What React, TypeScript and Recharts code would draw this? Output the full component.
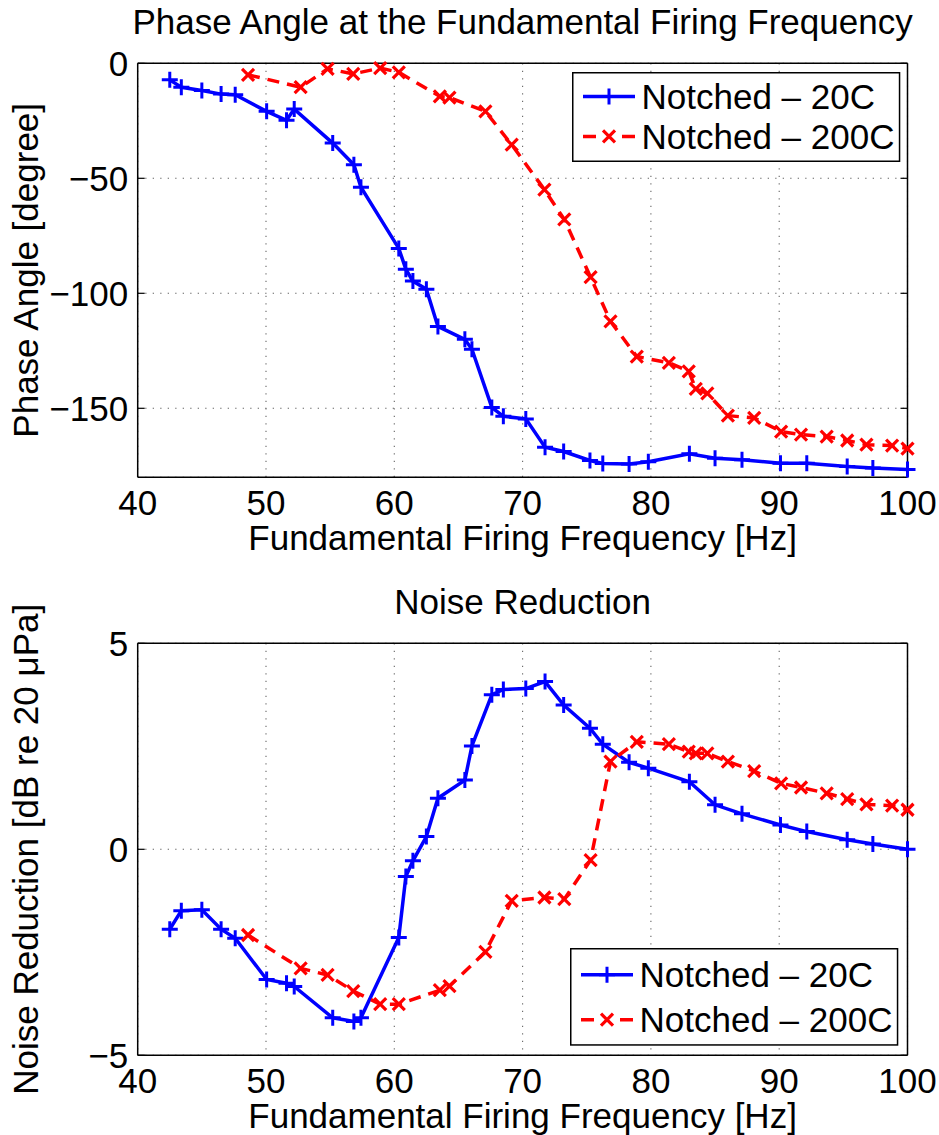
import React from 'react';
import { LineChart, Line, XAxis, YAxis, CartesianGrid, Legend } from 'recharts';

// ---------- data ----------
const freq20 = [42.5, 43.4, 45.0, 46.5, 47.6, 50.05, 51.6, 52.2, 55.2, 56.85, 57.4, 60.35, 60.9, 61.45, 62.5, 63.4, 65.5, 66.05, 67.6, 68.5, 70.25, 71.75, 73.2, 75.25, 76.25, 78.3, 79.8, 83.0, 85.0, 87.1, 90.1, 92.15, 95.3, 97.3, 100];
const phase20 = [-7.2, -10.4, -11.8, -13.4, -13.7, -20.9, -24.8, -19.9, -34.7, -44.1, -53.9, -80.5, -89.5, -94.7, -98.2, -114.4, -120, -124.3, -149.6, -153.5, -154.6, -166.9, -168.8, -172.7, -174.0, -174.2, -173.2, -169.8, -171.7, -172.4, -173.9, -173.9, -175.3, -176, -176.6];
const nr20 = [-1.94, -1.49, -1.47, -1.94, -2.16, -3.16, -3.25, -3.33, -4.09, -4.18, -4.09, -2.14, -0.66, -0.28, 0.31, 1.24, 1.68, 2.51, 3.75, 3.88, 3.9, 4.07, 3.5, 2.94, 2.55, 2.11, 1.97, 1.64, 1.08, 0.86, 0.59, 0.43, 0.23, 0.13, 0.0];

const freq200 = [48.6, 52.7, 54.8, 56.8, 58.9, 60.35, 63.55, 64.3, 67.1, 69.15, 71.7, 73.25, 75.3, 76.85, 78.9, 81.4, 82.95, 83.5, 84.4, 86.0, 88.05, 90.15, 91.7, 93.7, 95.3, 96.8, 98.8, 100];
const phase200 = [-5.0, -10.4, -2.4, -4.6, -2.1, -3.9, -14.4, -14.9, -20.9, -35.4, -54.9, -67.9, -93.0, -112.2, -127.5, -130.2, -133.9, -141.6, -143.5, -153.2, -154.2, -160.1, -161.4, -162.3, -164, -165.8, -166.2, -167.5];
const nr200 = [-2.08, -2.89, -3.05, -3.44, -3.76, -3.76, -3.42, -3.32, -2.49, -1.25, -1.17, -1.21, -0.26, 2.13, 2.61, 2.55, 2.37, 2.33, 2.33, 2.13, 1.9, 1.6, 1.5, 1.36, 1.22, 1.09, 1.06, 0.96];

const xTicks = [40, 50, 60, 70, 80, 90, 100];
const phaseTicks = [-150, -100, -50, 0];
const nrTicks = [-5, 0, 5];
const seriesNames = ['Notched \u2013 20C', 'Notched \u2013 200C'];
const titles = ['Phase Angle at the Fundamental Firing Frequency', 'Noise Reduction'];
const xLabel = 'Fundamental Firing Frequency [Hz]';
const yLabels = ['Phase Angle [degree]', 'Noise Reduction [dB re 20 \u03bcPa]'];

// ---------- style ----------
const FONT = '"Liberation Sans", Arial, Helvetica, sans-serif';
const FS = 35;
const BLUE = '#0000ff';
const RED = '#ff0000';
const W = 939;
const PLOT_LEFT = 137.7;
const RIGHT_M = 31.5;
const X_AXIS_H = 40;
const PLOT_CX = PLOT_LEFT + (W - RIGHT_M - PLOT_LEFT) / 2;

const zip = (xs: number[], ys: number[]) => xs.map((x, i) => ({ x, y: ys[i] }));
const fmt = (v: number) => (v < 0 ? '\u2212' + Math.abs(v) : String(v));
const emptyTick = () => <g />;

function PlusDot(props: any) {
  const { cx, cy, index } = props;
  if (cx == null || cy == null) return <g key={`p${index}`} />;
  const s = 8;
  return (
    <path key={`p${index}`} d={`M${cx - s},${cy}H${cx + s}M${cx},${cy - s}V${cy + s}`} stroke={BLUE} strokeWidth={3} fill="none" />
  );
}

function CrossDot(props: any) {
  const { cx, cy, index } = props;
  if (cx == null || cy == null) return <g key={`c${index}`} />;
  const s = 6;
  return (
    <path key={`c${index}`} d={`M${cx - s},${cy - s}L${cx + s},${cy + s}M${cx - s},${cy + s}L${cx + s},${cy - s}`} stroke={RED} strokeWidth={3.2} fill="none" />
  );
}

function makeLegend(w: number, h: number, rowY: number[]) {
  return () => (
    <svg width={w} height={h} style={{ display: 'block', overflow: 'visible' }}>
      <rect x={0.75} y={0.75} width={w - 1.5} height={h - 1.5} fill="#fff" stroke="#000" strokeWidth={1.5} />
      <line x1={11} x2={63} y1={rowY[0]} y2={rowY[0]} stroke={BLUE} strokeWidth={3.5} />
      <PlusDot cx={37} cy={rowY[0]} index={0} />
      <text x={69.5} y={rowY[0]} dominantBaseline="central" fontSize={FS} fontFamily={FONT} fill="#000">{seriesNames[0]}</text>
      <line x1={11} x2={63} y1={rowY[1]} y2={rowY[1]} stroke={RED} strokeWidth={3.5} strokeDasharray="13 26" />
      <CrossDot cx={37} cy={rowY[1]} index={1} />
      <text x={69.5} y={rowY[1]} dominantBaseline="central" fontSize={FS} fontFamily={FONT} fill="#000">{seriesNames[1]}</text>
    </svg>
  );
}

type PanelProps = {
  height: number;
  top: number;
  plotH: number;
  yDomain: [number, number];
  yTicks: number[];
  d20: { x: number; y: number }[];
  d200: { x: number; y: number }[];
  legend: { left: number; top: number; w: number; h: number; rows: number[] };
};

function Panel({ height, top, plotH, yDomain, yTicks, d20, d200, legend }: PanelProps) {
  const bottom = height - top - plotH - X_AXIS_H;
  const tickStyle = { fill: '#000', fontSize: FS, fontFamily: FONT };
  const tl = { stroke: '#000', strokeWidth: 1.2 };
  const al = { stroke: '#000', strokeWidth: 1.5 };
  return (
    <LineChart width={W} height={height} margin={{ top, right: RIGHT_M, bottom, left: 0 }}>
      <CartesianGrid stroke="#666" strokeDasharray="1.3 6.2" strokeWidth={1.1} />
      <XAxis dataKey="x" type="number" domain={[40, 100]} ticks={xTicks} interval={0} height={X_AXIS_H}
        axisLine={al} tickLine={false} tickSize={0} tickMargin={13} tick={tickStyle} />
      <XAxis xAxisId="xb" type="number" domain={[40, 100]} ticks={xTicks} interval={0} allowDataOverflow
        orientation="bottom" mirror axisLine={false} tickLine={tl} tickSize={7} tick={emptyTick} />
      <XAxis xAxisId="xt" type="number" domain={[40, 100]} ticks={xTicks} interval={0} allowDataOverflow
        orientation="top" mirror axisLine={al} tickLine={tl} tickSize={7} tick={emptyTick} />
      <YAxis type="number" domain={yDomain} ticks={yTicks} interval={0} width={PLOT_LEFT}
        axisLine={al} tickLine={false} tickSize={0} tickMargin={9.5} tickFormatter={fmt} tick={tickStyle} />
      <YAxis yAxisId="yl" type="number" domain={yDomain} ticks={yTicks} interval={0} allowDataOverflow
        orientation="left" mirror axisLine={false} tickLine={tl} tickSize={7} tick={emptyTick} />
      <YAxis yAxisId="yr" type="number" domain={yDomain} ticks={yTicks} interval={0} allowDataOverflow
        orientation="right" mirror axisLine={al} tickLine={tl} tickSize={7} tick={emptyTick} />
      <Line data={d20} dataKey="y" name={seriesNames[0]} type="linear" stroke={BLUE} strokeWidth={3.5}
        dot={PlusDot} activeDot={false} isAnimationActive={false} />
      <Line data={d200} dataKey="y" name={seriesNames[1]} type="linear" stroke={RED} strokeWidth={3.5}
        strokeDasharray="12 8" dot={CrossDot} activeDot={false} isAnimationActive={false} />
      <Legend layout="vertical" align="center" verticalAlign="middle" width={legend.w} height={legend.h}
        wrapperStyle={{ position: 'absolute', left: legend.left, top: legend.top, width: legend.w, height: legend.h }}
        content={makeLegend(legend.w, legend.h, legend.rows)} />
    </LineChart>
  );
}

export default function App() {
  const textProps = { fontSize: FS, fontFamily: FONT, fill: '#000', textAnchor: 'middle' as const };
  return (
    <div style={{ position: 'absolute', left: 0, top: 0, width: W, height: 1135, background: '#fff' }}>
      <div style={{ position: 'absolute', left: 0, top: 0 }}>
        <Panel height={580} top={63.3} plotH={414} yDomain={[-180, 0]} yTicks={phaseTicks}
          d20={zip(freq20, phase20)} d200={zip(freq200, phase200)}
          legend={{ left: 571.7, top: 72.3, w: 328.3, h: 90, rows: [24.4, 64.4] }} />
      </div>
      <div style={{ position: 'absolute', left: 0, top: 580 }}>
        <Panel height={555} top={63.3} plotH={412} yDomain={[-5, 5]} yTicks={nrTicks}
          d20={zip(freq20, nr20)} d200={zip(freq200, nr200)}
          legend={{ left: 570, top: 368.3, w: 328.3, h: 97.7, rows: [26.7, 71.7] }} />
      </div>
      <svg width={W} height={1135} style={{ position: 'absolute', left: 0, top: 0, pointerEvents: 'none' }}>
        <text x={PLOT_CX} y={34} {...textProps}>{titles[0]}</text>
        <text x={PLOT_CX} y={550} {...textProps}>{xLabel}</text>
        <text x={PLOT_CX} y={614} {...textProps}>{titles[1]}</text>
        <text x={PLOT_CX} y={1128} {...textProps}>{xLabel}</text>
        <text x={38} y={270.3} transform="rotate(-90 38 270.3)" {...textProps}>{yLabels[0]}</text>
        <text x={38} y={849.3} transform="rotate(-90 38 849.3)" {...textProps}>{yLabels[1]}</text>
      </svg>
    </div>
  );
}
